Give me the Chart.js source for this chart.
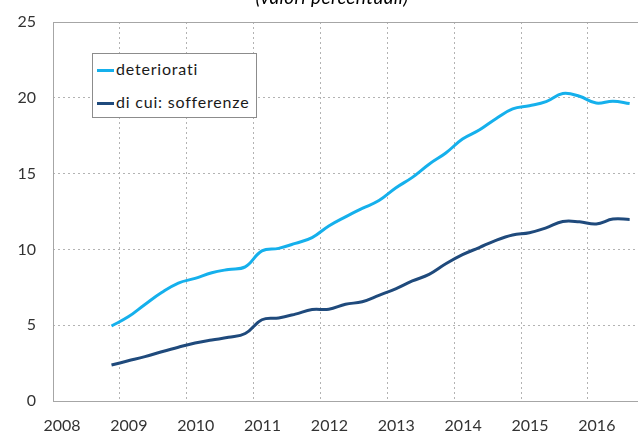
<!DOCTYPE html>
<html>
<head>
<meta charset="utf-8">
<script src="https://cdn.jsdelivr.net/npm/chart.js@4.4.1/dist/chart.umd.min.js"></script>
<style>
  html, body { margin: 0; padding: 0; background: #fff; overflow: hidden; }
  #wrap { position: relative; width: 638px; height: 432px; }
  #title {
    position: absolute; left: 0; width: 664px; top: -13px;
    text-align: center; font: italic 19px Lato, sans-serif; color: #000;
    line-height: 19px; letter-spacing: 0.4px;
  }
  #legend {
    position: absolute; left: 92px; top: 53px; width: 165px; height: 65px;
    border: 1px solid #8c8c8c; background: #fff; box-sizing: border-box;
    font: 16px Lato, sans-serif; color: #1a1a1a; letter-spacing: 0.8px;
  }
  #legend .item { position: absolute; left: 4px; height: 18px; line-height: 18px; white-space: nowrap; }
  #legend .sw { display: inline-block; width: 17px; height: 3px; vertical-align: middle; margin-right: 2px; }
</style>
</head>
<body>
<div id="wrap">
  <canvas id="chart" width="638" height="432"></canvas>
  <div id="title">(valori percentuali)</div>
  <div id="legend"></div>
</div>
<script>
// quarterly readings, month labels (mid-month positions)
const months = [
  '2008-11', '2009-02', '2009-05', '2009-08', '2009-11',
  '2010-02', '2010-05', '2010-08', '2010-11',
  '2011-02', '2011-05', '2011-08', '2011-11',
  '2012-02', '2012-05', '2012-08', '2012-11',
  '2013-02', '2013-05', '2013-08', '2013-11',
  '2014-02', '2014-05', '2014-08', '2014-11',
  '2015-02', '2015-05', '2015-08', '2015-11',
  '2016-02', '2016-05', '2016-08'
];
const deteriorati = [
  4.95, 5.55, 6.37, 7.15, 7.78,
  8.09, 8.46, 8.68, 8.85,
  9.90, 10.07, 10.40, 10.78,
  11.55, 12.15, 12.70, 13.22,
  14.05, 14.75, 15.62, 16.36,
  17.28, 17.87, 18.62, 19.27,
  19.48, 19.75, 20.28, 20.10,
  19.65, 19.78, 19.62
];
const sofferenze = [
  2.37, 2.65, 2.93, 3.25, 3.55,
  3.82, 4.02, 4.20, 4.45,
  5.36, 5.48, 5.73, 6.03,
  6.05, 6.38, 6.55, 6.97,
  7.40, 7.92, 8.35, 9.05,
  9.65, 10.12, 10.60, 10.95,
  11.10, 11.42, 11.84, 11.82,
  11.68, 12.00, 11.98
];
const yearTicks = [2008, 2009, 2010, 2011, 2012, 2013, 2014, 2015, 2016];
const yTicks = [0, 5, 10, 15, 20, 25];

function toYear(m) {
  const [y, mo] = m.split('-').map(Number);
  return y + (mo - 0.5) / 12;
}

function points(values) {
  return values.map((v, i) => ({ x: toYear(months[i]), y: v }));
}

const frame = {
  id: 'frame',
  afterDraw(chart) {
    const a = chart.chartArea, ctx = chart.ctx;
    ctx.save();
    ctx.strokeStyle = '#a6a6a6';
    ctx.lineWidth = 1;
    ctx.strokeRect(Math.round(a.left) + 0.5, Math.round(a.top) + 0.5,
      Math.round(a.right - a.left), Math.round(a.bottom - a.top));
    ctx.restore();
  }
};

const tickFont = { family: 'Lato, sans-serif', size: 16 };

const chart = new Chart(document.getElementById('chart'), {
  type: 'line',
  data: {
    datasets: [{
      label: 'deteriorati',
      data: points(deteriorati),
      borderColor: '#15b0ec',
      borderWidth: 3,
      pointRadius: 0,
      tension: 0.4
    }, {
      label: 'di cui: sofferenze',
      data: points(sofferenze),
      borderColor: '#1f4a7c',
      borderWidth: 3,
      pointRadius: 0,
      tension: 0.4
    }]
  },
  options: {
    responsive: false,
    animation: false,
    layout: { padding: { top: 22, right: 0, left: 0, bottom: 0 } },
    plugins: {
      legend: { display: false },
      tooltip: { enabled: false }
    },
    scales: {
      x: {
        type: 'linear',
        min: 2008,
        max: 2016.75,
        afterBuildTicks: s => { s.ticks = yearTicks.map(v => ({ value: v })); },
        afterFit: s => { s.height = 31; s.paddingLeft = 0; s.paddingRight = 0; },
        grid: { color: '#b3b3b3', drawTicks: false },
        border: { display: false, dash: [2, 3] },
        ticks: {
          font: tickFont, color: '#333', padding: 15, labelOffset: 9,
          maxRotation: 0, autoSkip: false,
          callback: v => String(v)
        }
      },
      y: {
        min: 0,
        max: 25,
        afterBuildTicks: s => { s.ticks = yTicks.map(v => ({ value: v })); },
        afterFit: s => { s.width = 53; s.paddingTop = 0; s.paddingBottom = 0; },
        grid: { color: '#b3b3b3', drawTicks: false },
        border: { display: false, dash: [2, 3] },
        ticks: { font: tickFont, color: '#333', padding: 17 }
      }
    }
  },
  plugins: [frame]
});

// legend box inside plot
const legend = document.getElementById('legend');
chart.data.datasets.forEach((ds, i) => {
  const item = document.createElement('div');
  item.className = 'item';
  item.style.top = (6 + i * 33) + 'px';
  const sw = document.createElement('span');
  sw.className = 'sw';
  sw.style.background = ds.borderColor;
  item.appendChild(sw);
  item.appendChild(document.createTextNode(ds.label));
  legend.appendChild(item);
});
</script>
</body>
</html>
